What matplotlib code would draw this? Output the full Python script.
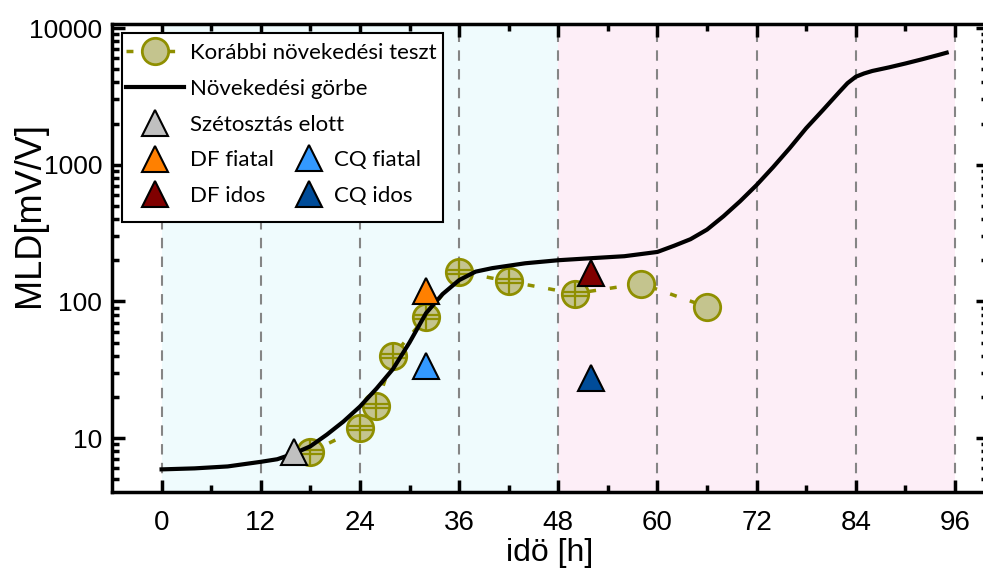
import numpy as np
from matplotlib import pyplot as plt, rcParams
from matplotlib.patches import Rectangle
from matplotlib.path import Path
from matplotlib.ticker import FixedLocator, LogLocator, NullFormatter

rcParams['font.family'] = ['Liberation Sans', 'DejaVu Sans']
LEGEND_FONT = ['Lato', 'DejaVu Sans']

# Growth curve (MLD vs. time)
curve_t = [0, 4, 8, 12, 14, 16, 18, 20, 22, 24, 26, 28, 30, 32, 34, 36, 38, 40,
           44, 48, 52, 56, 60, 62, 64, 66, 68, 70, 72, 74, 76, 78, 80, 82, 83,
           84, 85, 86, 88, 90, 92, 94, 95]
curve_mld = [5.9, 6.0, 6.2, 6.7, 7.0, 7.7, 8.7, 10.6, 13.2, 17, 23, 32, 50, 82,
             113, 143, 165, 175, 190, 200, 207, 214, 230, 255, 285, 335, 420,
             540, 710, 960, 1320, 1850, 2500, 3400, 3950, 4400, 4650, 4850,
             5150, 5500, 5900, 6350, 6600]

# Earlier growth test
prev_t = [18, 24, 26, 28, 32, 36, 42, 50, 58, 66]
prev_mld = [7.9, 11.8, 17.1, 40, 77, 165, 140, 114, 135, 91]
prev_hatched = [True, True, True, True, True, True, True, True, False, False]

# Samples
split_t, split_mld = [16], [7.9]
df_young_t, df_young_mld = [32], [120]
cq_young_t, cq_young_mld = [32], [33.5]
df_old_t, df_old_mld = [52], [160]
cq_old_t, cq_old_mld = [52], [27.5]

LABELS = ["Korábbi növekedési teszt", "Növekedési görbe", "Szétosztás elott",
          "DF fiatal", "DF idos", "CQ fiatal", "CQ idos"]
XTICKS = [0, 12, 24, 36, 48, 60, 72, 84, 96]

OLIVE = '#8f8f00'
OLIVE_FILL = '#c4c48e'
CIRCLE_MS = 19
TRI_MS = 19
TRI_COLORS = ['#c0c0c0', '#ff8000', '#800000', '#3399ff', '#004c99']

# circle with a cross and a doubled horizontal bar
bar = 0.15
hatch_marker = Path([(0, -1), (0, 1), (-0.99, bar), (0.99, bar),
                     (-0.99, -bar), (0.99, -bar)],
                    [Path.MOVETO, Path.LINETO, Path.MOVETO, Path.LINETO,
                     Path.MOVETO, Path.LINETO])

W, H = 983, 570
fig = plt.figure(figsize=(W/100, H/100), dpi=100)
ax = fig.add_axes([112/W, 1 - 492/H, 876/W, 468/H])

ax.axvspan(0, 48, color='#effbfd', lw=0, zorder=0)
ax.axvspan(48, 96, color='#fdeef7', lw=0, zorder=0)
for x in XTICKS:
    ax.axvline(x, color='#858585', lw=1.5, dashes=(5, 4), zorder=1)

prev_line, = ax.plot(prev_t, prev_mld, ls=(0, (2, 4)), lw=2.5, color=OLIVE,
                     marker='o', ms=CIRCLE_MS, mfc=OLIVE_FILL, mec=OLIVE,
                     mew=2, zorder=3)
hx = [t for t, h in zip(prev_t, prev_hatched) if h]
hy = [m for m, h in zip(prev_mld, prev_hatched) if h]
ax.plot(hx, hy, ls='none', marker=hatch_marker, ms=CIRCLE_MS, mec=OLIVE,
        mew=1.6, fillstyle='none', zorder=3)

curve_line, = ax.plot(curve_t, curve_mld, color='k', lw=3, zorder=4)

tri_handles = []
for (tx, ty), c in zip([(split_t, split_mld), (df_young_t, df_young_mld),
                        (df_old_t, df_old_mld), (cq_young_t, cq_young_mld),
                        (cq_old_t, cq_old_mld)], TRI_COLORS):
    h, = ax.plot(tx, ty, ls='none', marker='^', ms=TRI_MS, mfc=c, mec='k',
                 mew=1.5, zorder=5)
    tri_handles.append(h)

ax.set_yscale('log')
ax.set_xlim(-6, 100)
ax.set_ylim(4.03, 10700)
ax.set_xticks(XTICKS)
ax.xaxis.set_minor_locator(FixedLocator(np.arange(6, 100, 12)))
ax.yaxis.set_major_locator(FixedLocator([10, 100, 1000, 10000]))
ax.yaxis.set_minor_locator(LogLocator(base=10, subs=np.arange(2, 10)))
ax.yaxis.set_minor_formatter(NullFormatter())
ax.set_yticklabels(['10', '100', '1000', '10000'])

ax.tick_params(which='both', direction='in', top=True, right=True, width=2.5)
ax.tick_params(which='major', length=9)
ax.tick_params(which='minor', length=5)
ax.tick_params(axis='x', which='major', pad=13, labelsize=20)
ax.tick_params(axis='y', which='major', pad=7, labelsize=19)
for s in ax.spines.values():
    s.set_linewidth(2.5)

ax.set_ylabel("MLD[mV/V]", fontsize=26)
ax.yaxis.set_label_coords(-0.094, 0.592)
ax.yaxis.label.set_va('center')
ax.set_xlabel("idö [h]", fontsize=23)
ax.xaxis.set_label_coords(0.5, -0.130)
ax.xaxis.label.set_va('center')

# legend box drawn separately, the two legends sit inside it without frames
ax.add_patch(Rectangle((122/W, 1 - 222/H), 321/W, 189/H,
                       transform=fig.transFigure, facecolor='white',
                       edgecolor='k', lw=1.5, zorder=6, clip_on=False))

leg_kw = dict(prop={'family': LEGEND_FONT, 'size': 16}, numpoints=1,
              labelspacing=0.71, borderaxespad=0, borderpad=0,
              frameon=False, bbox_transform=fig.transFigure,
              loc='upper left')
leg1 = ax.legend([prev_line, curve_line] + tri_handles[:3], LABELS[:5],
                 bbox_to_anchor=(126/W, 1 - 43/H), handlelength=2.6,
                 handletextpad=0.3, **leg_kw)
leg1.set_zorder(7)
ax.add_artist(leg1)
leg2 = ax.legend(tri_handles[3:], LABELS[5:],
                 bbox_to_anchor=(287/W, 1 - 150/H), handlelength=2.0,
                 handletextpad=0.1, **leg_kw)
leg2.set_zorder(7)

fig.savefig('out.png', dpi=100)
